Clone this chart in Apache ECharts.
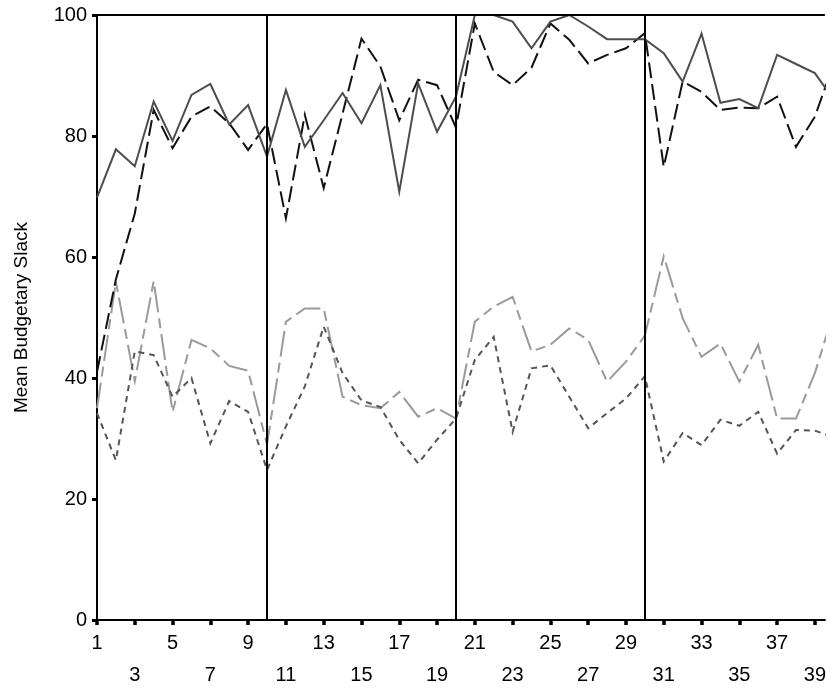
<!DOCTYPE html>
<html>
<head>
<meta charset="utf-8">
<script src="https://cdn.jsdelivr.net/npm/echarts@6/dist/echarts.min.js"></script>
<style>
  html, body { margin: 0; padding: 0; background: #fff; }
  #chart { width: 829px; height: 688px; }
</style>
</head>
<body>
<div id="chart"></div>
<script>
// periods 1..40
const periods = [1, 2, 3, 4, 5, 6, 7, 8, 9, 10,
  11, 12, 13, 14, 15, 16, 17, 18, 19, 20,
  21, 22, 23, 24, 25, 26, 27, 28, 29, 30,
  31, 32, 33, 34, 35, 36, 37, 38, 39, 40]

// dark grey solid
const solidVals = [69.8, 77.8, 75.0, 85.7, 79.2, 86.8, 88.6, 81.9, 85.1, 76.6,
  87.6, 78.2, 82.6, 87.1, 82.1, 88.4, 70.8, 88.7, 80.7, 86.5,
  100, 100, 98.9, 94.5, 98.9, 100, 98.1, 96.0, 96.0, 96.0,
  93.7, 89.0, 96.9, 85.5, 86.1, 84.6, 93.4, 91.9, 90.4, 86.0]

// black long dashes
const dashVals = [41.0, 56.3, 67.2, 84.3, 78.0, 83.2, 84.9, 82.1, 77.7, 82.0,
  66.4, 83.5, 71.4, 83.7, 96.1, 91.5, 82.6, 89.3, 88.4, 81.4,
  98.6, 90.6, 88.4, 91.3, 98.6, 95.9, 92.0, 93.4, 94.5, 97.0,
  74.9, 89.0, 87.3, 84.3, 84.7, 84.6, 86.5, 78.2, 83.2, 92.0]

// light grey dash-dot
const greyVals = [35.0, 55.9, 39.5, 56.0, 34.4, 46.3, 44.9, 42.0, 41.2, 29.0,
  49.3, 51.5, 51.5, 36.9, 35.5, 35.0, 37.7, 33.6, 35.0, 33.3,
  49.3, 51.8, 53.4, 44.4, 45.5, 48.2, 46.3, 39.4, 42.7, 47.0,
  60.1, 49.9, 43.5, 45.7, 39.4, 45.5, 33.3, 33.3, 40.8, 51.0]

// dark grey short dashes
const dotVals = [34.2, 26.4, 44.4, 43.8, 36.9, 40.0, 29.2, 36.2, 34.4, 24.8,
  32.0, 38.6, 48.5, 40.8, 36.3, 35.2, 29.8, 25.9, 29.8, 33.3,
  43.0, 46.8, 31.1, 41.6, 42.1, 36.9, 31.7, 34.2, 36.6, 40.3,
  26.2, 30.9, 28.9, 33.1, 32.1, 34.4, 27.5, 31.4, 31.3, 30.2]

const xTicks = [1, 3, 5, 7, 9, 11, 13, 15, 17, 19, 21, 23, 25, 27, 29, 31, 33, 35, 37, 39]
const blockEdges = [10, 20, 30]

const font = 'Liberation Sans, Arial, Helvetica, sans-serif'
const pairs = vals => periods.map((p, i) => [p, vals[i]])

const chart = echarts.init(document.getElementById('chart'), null, { renderer: 'canvas' })

const lineSeries = (vals, color, type, width) => ({
  type: 'line',
  data: pairs(vals),
  symbol: 'none',
  silent: true,
  clip: true,
  lineStyle: { color: color, width: width, type: type, cap: 'butt', join: 'miter' }
})

const option = {
  animation: false,
  backgroundColor: '#fff',
  grid: { left: 97, right: 0, top: 15, bottom: 68 },
  xAxis: {
    type: 'value',
    min: 1,
    max: 39.53,
    splitLine: { show: false },
    axisLine: { onZero: false, lineStyle: { color: '#000', width: 2 } },
    axisTick: { customValues: xTicks, length: 5, lineStyle: { color: '#000', width: 3.5 } },
    axisLabel: {
      customValues: xTicks,
      color: '#000',
      fontFamily: font,
      fontSize: 20,
      lineHeight: 16,
      margin: 15,
      formatter: v => (xTicks.indexOf(v) % 2 === 1 ? '\n\n' + v : String(v))
    }
  },
  yAxis: {
    type: 'value',
    min: 0,
    max: 100,
    interval: 20,
    name: 'Mean Budgetary Slack',
    nameLocation: 'middle',
    nameGap: 66,
    nameTextStyle: { color: '#000', fontFamily: font, fontSize: 19 },
    splitLine: { show: false },
    axisLine: { show: true, lineStyle: { color: '#000', width: 2 } },
    axisTick: { length: 5, lineStyle: { color: '#000', width: 3 } },
    axisLabel: { color: '#000', fontFamily: font, fontSize: 20, margin: 10 }
  },
  series: [
    lineSeries(greyVals, '#9a9a9a', [26, 6, 10, 6], 2),
    lineSeries(dotVals, '#555555', [6, 5], 2),
    lineSeries(dashVals, '#111111', [16, 6], 2),
    Object.assign(lineSeries(solidVals, '#4d4d4d', 'solid', 2), {
      markLine: {
        silent: true,
        symbol: 'none',
        label: { show: false },
        lineStyle: { color: '#000', width: 2, type: 'solid' },
        data: blockEdges.map(x => ({ xAxis: x })).concat([{ yAxis: 100 }])
      }
    })
  ]
}

chart.setOption(option)
</script>
</body>
</html>
